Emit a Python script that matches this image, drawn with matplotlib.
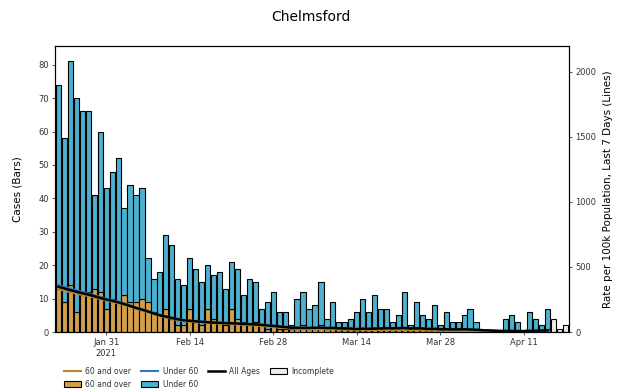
import numpy as np
import pandas as pd
import matplotlib
matplotlib.use('Agg')
import matplotlib.pyplot as plt
from matplotlib.lines import Line2D
from matplotlib.patches import Patch

# daily cases, Chelmsford, from 23 Jan 2021
start_date = '2021-01-23'
total_cases = [74, 58, 81, 70, 66, 66, 41, 60, 43, 48, 52, 37, 44, 41, 43, 22,
               16, 18, 29, 26, 16, 14, 22, 19, 15, 20, 17, 18, 13, 21, 19, 11,
               16, 15, 7, 9, 12, 6, 6, 2, 10, 12, 7, 8, 15, 4, 9, 3,
               3, 4, 6, 10, 6, 11, 7, 7, 3, 5, 12, 2, 9, 5, 4, 8,
               2, 6, 3, 3, 5, 7, 3, 0, 0, 0, 0, 4, 5, 3, 0, 6,
               4, 2, 7, 4, 1, 2]
over60_cases = [13, 9, 14, 6, 11, 12, 13, 12, 7, 10, 9, 11, 9, 9, 10, 9,
                6, 5, 7, 4, 2, 2, 7, 3, 2, 7, 4, 3, 2, 7, 4, 3,
                2, 3, 2, 1, 2, 1, 1, 1, 1, 2, 1, 1, 2, 1, 1, 0,
                1, 0, 1, 0, 0, 1, 0, 0, 0, 0, 1, 0, 1, 0, 0, 1,
                0, 0, 0, 0, 0, 1, 0, 0, 0, 0, 0, 0, 0, 0, 0, 0,
                0, 0, 1, 0, 0, 0]
n_incomplete = 3

# 7-day rate per 100k (right axis)
rate_all = [348, 335, 322, 310, 298, 288, 275, 262, 250, 240, 228, 215, 200, 185,
            172, 158, 142, 128, 118, 108, 98, 90, 86, 82, 78, 75, 72, 70, 68, 67,
            65, 62, 60, 58, 55, 50, 47, 42, 38, 33, 32, 31, 31, 32, 33, 30, 31,
            28, 27, 26, 22, 25, 24, 26, 27, 29, 28, 29, 30, 27, 28, 27, 23, 24,
            21, 21, 20, 20, 21, 19, 17, 14, 12, 10, 8, 8, 8, 7, 7, 9, 10, 11, 12]
rate_under60 = [362, 348, 334, 321, 308, 297, 283, 270, 257, 246, 234, 220, 205, 190,
                176, 162, 146, 132, 121, 111, 101, 93, 89, 85, 81, 78, 75, 73, 71, 70,
                68, 65, 63, 61, 58, 53, 50, 45, 40, 35, 34, 33, 33, 34, 35, 32, 33,
                30, 29, 28, 24, 27, 26, 28, 29, 31, 30, 31, 32, 29, 30, 29, 25, 26,
                23, 23, 22, 22, 23, 21, 19, 15, 13, 11, 9, 9, 9, 8, 8, 10, 11, 12, 13]
rate_over60 = [330, 318, 306, 296, 285, 276, 265, 253, 242, 232, 220, 208, 194, 180,
               166, 152, 137, 122, 112, 102, 92, 84, 80, 76, 72, 69, 66, 64, 62, 60,
               58, 55, 52, 50, 46, 42, 38, 34, 30, 26, 24, 23, 22, 22, 23, 20, 20,
               18, 17, 16, 14, 15, 14, 15, 15, 16, 15, 15, 16, 14, 15, 14, 12, 12,
               10, 10, 9, 9, 9, 9, 8, 6, 5, 4, 3, 3, 3, 3, 3, 4, 4, 5, 5]

tick_dates = ['2021-01-31', '2021-02-14', '2021-02-28', '2021-03-14', '2021-03-28', '2021-04-11']
tick_labels = ['Jan 31\n2021', 'Feb 14', 'Feb 28', 'Mar 14', 'Mar 28', 'Apr 11']

c_over = '#d49f4c'
c_under = '#4cb0cf'
c_line_over = '#b8862e'
c_line_under = '#2f78c4'

dates = pd.date_range(start_date, periods=len(total_cases), freq='D')
total = np.array(total_cases, dtype=float)
over = np.array(over60_cases, dtype=float)
under = total - over
n_done = len(total) - n_incomplete

fig = plt.figure(figsize=(6.21, 3.91), dpi=100)
ax = fig.add_axes([55/621, 1-332/391, (569-55)/621, (332-46)/391])

w = pd.Timedelta(hours=21)
ax.bar(dates[:n_done], over[:n_done], width=w, color=c_over, edgecolor='black', linewidth=0.8)
ax.bar(dates[:n_done], under[:n_done], bottom=over[:n_done], width=w, color=c_under,
       edgecolor='black', linewidth=0.8)
ax.bar(dates[n_done:], total[n_done:], width=w, color='#ececec', edgecolor='black', linewidth=0.8)

ax.set_ylim(0, 85.6)
ax.set_yticks(range(0, 81, 10))
ax.set_xlim(dates[0] - pd.Timedelta(hours=14), dates[-1] + pd.Timedelta(hours=14))
ax.set_xticks(pd.to_datetime(tick_dates))
ax.set_xticklabels(tick_labels)

ax2 = ax.twinx()
ld = dates[:len(rate_all)]
ax2.plot(ld, rate_over60, color=c_line_over, lw=1.5)
ax2.plot(ld, rate_under60, color=c_line_under, lw=1.5)
ax2.plot(ld, rate_all, color='black', lw=1.8)
ax2.set_ylim(0, 2200)
ax2.set_yticks(range(0, 2001, 500))

for a in (ax, ax2):
    a.tick_params(labelsize=6, colors='#333333', length=2.5, width=0.6, pad=2)
    for s in a.spines.values():
        s.set_linewidth(0.8)

fig.text(0.5, 1-17/391, 'Chelmsford', ha='center', va='center', fontsize=10)
fig.text(18/621, 1-189/391, 'Cases (Bars)', rotation=90, ha='center', va='center', fontsize=7.5)
fig.text(608/621, 1-189/391, 'Rate per 100k Population, Last 7 Days (Lines)', rotation=90,
         ha='center', va='center', fontsize=7.5)

handles = [Line2D([], [], color=c_line_over, lw=1.5),
           Patch(facecolor=c_over, edgecolor='black', lw=0.8),
           Line2D([], [], color=c_line_under, lw=1.5),
           Patch(facecolor=c_under, edgecolor='black', lw=0.8),
           Line2D([], [], color='black', lw=1.8),
           Patch(facecolor='#ececec', edgecolor='black', lw=0.8)]
labels = ['60 and over', '60 and over', 'Under 60', 'Under 60', 'All Ages', 'Incomplete']
fig.legend(handles, labels, ncol=4, loc='upper left', bbox_to_anchor=(60/621, 1-363/391),
           frameon=False, fontsize=5.5, handlelength=2.2, handleheight=0.9,
           columnspacing=1.3, labelspacing=0.5, borderpad=0, handletextpad=0.6,
           labelcolor='#333333')

fig.savefig('out.png', dpi=100)
